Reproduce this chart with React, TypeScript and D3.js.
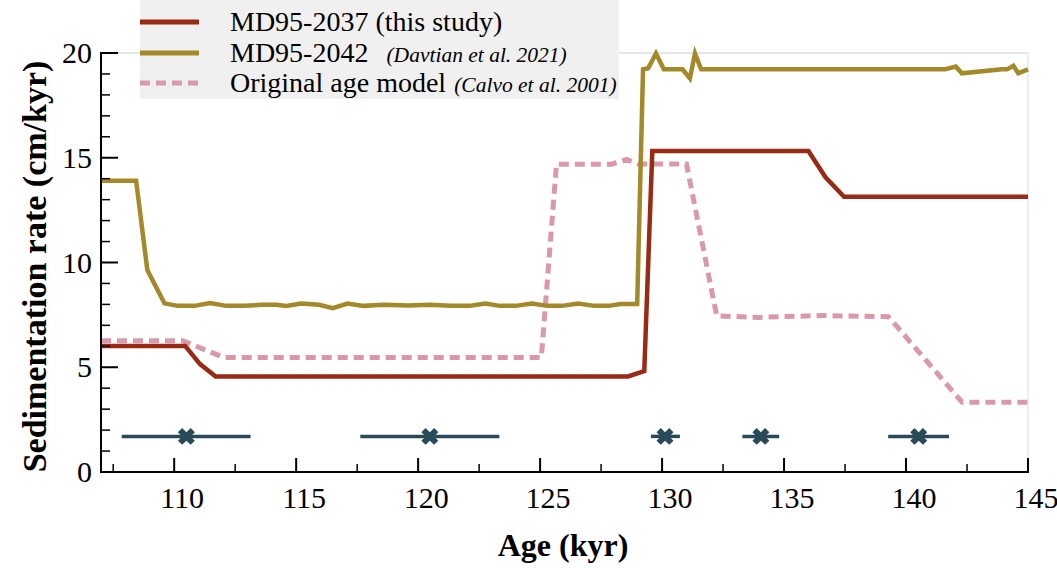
import React from "react";
import * as d3 from "d3";

// MD95-2037 (this study)
const md2037Age = [107, 110.45, 111.06, 111.7, 128.6, 129.27, 129.6, 136.0, 136.7, 137.46, 145];
const md2037Rate = [6.02, 6.02, 5.15, 4.56, 4.56, 4.82, 15.32, 15.32, 14.07, 13.14, 13.14];

// MD95-2042 (Davtian et al. 2021)
const md2042Age = [107, 108.44, 108.9, 109.6, 110.15, 110.84, 111.47, 112.13, 112.86, 113.59, 114.18, 114.6, 115.2, 115.94, 116.5, 117.1, 117.77, 118.57, 119.6, 120.48, 121.36, 122.1, 122.76, 123.34, 124.0, 124.66, 125.3, 125.9, 126.56, 127.22, 127.8, 128.3, 128.98, 129.22, 129.43, 129.75, 130.07, 130.84, 131.14, 131.35, 131.6, 141.6, 142.04, 142.29, 143.93, 144.14, 144.4, 144.6, 145];
const md2042Rate = [13.9, 13.9, 9.64, 8.05, 7.93, 7.93, 8.06, 7.93, 7.93, 7.98, 7.98, 7.93, 8.04, 7.98, 7.82, 8.04, 7.93, 7.98, 7.95, 7.98, 7.93, 7.93, 8.04, 7.93, 7.93, 8.04, 7.93, 7.93, 8.04, 7.93, 7.93, 8.02, 8.02, 19.22, 19.27, 19.98, 19.22, 19.22, 18.79, 19.98, 19.22, 19.22, 19.35, 19.03, 19.22, 19.22, 19.39, 19.03, 19.22, 19.22];

// Original age model (Calvo et al. 2001)
const origAge = [107, 110.35, 110.9, 112.06, 125.05, 125.67, 127.93, 128.54, 129.02, 131.0, 132.24, 133.95, 136.55, 139.28, 142.3, 145];
const origRate = [6.27, 6.27, 6.0, 5.46, 5.46, 14.69, 14.69, 14.92, 14.7, 14.7, 7.45, 7.38, 7.47, 7.41, 3.33, 3.33];

// Tie points with age uncertainty
const tieAge = [110.5, 120.48, 130.12, 134.05, 140.52];
const tieLow = [107.85, 117.63, 129.54, 133.29, 139.27];
const tieHigh = [113.13, 123.33, 130.73, 134.8, 141.76];
const tieRate = [1.7, 1.7, 1.7, 1.7, 1.7];

const xTicks = [110, 115, 120, 125, 130, 135, 140, 145];
const yTicks = [0, 5, 10, 15, 20];

const RED = "#982b15";
const GOLD = "#a3892a";
const PINK = "#d999aa";
const TEAL = "#2b4a59";

export default function App() {
  const W = 1057, H = 568;
  const x = d3.scaleLinear().domain([107, 145]).range([101, 1028]);
  const y = d3.scaleLinear().domain([0, 20]).range([472, 53]);
  const line = d3.line<[number, number]>().x(d => x(d[0])).y(d => y(d[1]));
  const zip = (a: number[], b: number[]) => a.map((v, i) => [v, b[i]] as [number, number]);

  const xMinor = d3.range(107.5, 145, 2.5).filter(v => !xTicks.includes(v));
  const yMinor = d3.range(1, 20, 1).filter(v => v % 5 !== 0);
  const cross = d3.symbol().type(d3.symbolCross).size(180)() as string;
  const serif = "'Liberation Serif', 'Times New Roman', serif";

  return (
    <svg width={W} height={H} style={{ position: "absolute", left: 0, top: 0, background: "#fff" }} fontFamily={serif}>
      {/* light frame top/right */}
      <line x1={x(107)} x2={x(145)} y1={y(20)} y2={y(20)} stroke="#cccccc" strokeWidth={1} />
      <line x1={x(145)} x2={x(145)} y1={y(20)} y2={y(0)} stroke="#dddddd" strokeWidth={1} />

      {/* series */}
      <path d={line(zip(origAge, origRate)) || ""} fill="none" stroke={PINK} strokeWidth={5} strokeDasharray="10 6" />
      <path d={line(zip(md2042Age, md2042Rate)) || ""} fill="none" stroke={GOLD} strokeWidth={4.5} strokeLinejoin="miter" />
      <path d={line(zip(md2037Age, md2037Rate)) || ""} fill="none" stroke={RED} strokeWidth={4.5} />

      {/* tie points */}
      {tieAge.map((a, i) => (
        <g key={i}>
          <line x1={x(tieLow[i])} x2={x(tieHigh[i])} y1={y(tieRate[i])} y2={y(tieRate[i])} stroke={TEAL} strokeWidth={3.5} />
          <path d={cross} transform={`translate(${x(a)},${y(tieRate[i])}) rotate(45)`} fill={TEAL} />
        </g>
      ))}

      {/* axes */}
      <line x1={x(107)} x2={x(107)} y1={y(20) - 1} y2={y(0) + 1} stroke="#000" strokeWidth={2} />
      <line x1={x(107) - 1} x2={x(145) + 1} y1={y(0)} y2={y(0)} stroke="#000" strokeWidth={2} />
      {yTicks.map(t => (
        <g key={"y" + t}>
          <line x1={x(107)} x2={x(107) + 17} y1={y(t)} y2={y(t)} stroke="#000" strokeWidth={2} />
          <text x={92} y={y(t) + 10} textAnchor="end" fontSize={30}>{t}</text>
        </g>
      ))}
      {yMinor.map(t => (
        <line key={"ym" + t} x1={x(107)} x2={x(107) + 9} y1={y(t)} y2={y(t)} stroke="#000" strokeWidth={1.5} />
      ))}
      {xTicks.map(t => (
        <g key={"x" + t}>
          <line x1={x(t)} x2={x(t)} y1={y(0)} y2={y(0) - 14} stroke="#000" strokeWidth={2} />
          <text x={x(t) + 8} y={508} textAnchor="middle" fontSize={30}>{t}</text>
        </g>
      ))}
      {xMinor.map(t => (
        <line key={"xm" + t} x1={x(t)} x2={x(t)} y1={y(0)} y2={y(0) - 8} stroke="#000" strokeWidth={1.5} />
      ))}

      {/* axis titles */}
      <text x={563} y={556} textAnchor="middle" fontSize={32} fontWeight="bold">Age (kyr)</text>
      <text transform={`translate(46,${(y(0) + y(20)) / 2 + 4}) rotate(-90)`} textAnchor="middle" fontSize={34} fontWeight="bold">Sedimentation rate (cm/kyr)</text>

      {/* legend */}
      <rect x={140} y={0} width={479} height={99} fill="#f0f0f0" />
      <line x1={140} x2={199} y1={22} y2={22} stroke={RED} strokeWidth={5} />
      <line x1={140} x2={199} y1={53} y2={53} stroke={GOLD} strokeWidth={5} />
      <line x1={140} x2={199} y1={83} y2={83} stroke={PINK} strokeWidth={5} strokeDasharray="10 6" />
      <text x={230} y={31} fontSize={28}>MD95-2037 (this study)</text>
      <text x={230} y={62} fontSize={28}>MD95-2042<tspan dx={18} fontSize={21.5} fontStyle="italic">(Davtian et al. 2021)</tspan></text>
      <text x={230} y={92} fontSize={28}>Original age model<tspan dx={8} fontSize={21.5} fontStyle="italic">(Calvo et al. 2001)</tspan></text>
    </svg>
  );
}
